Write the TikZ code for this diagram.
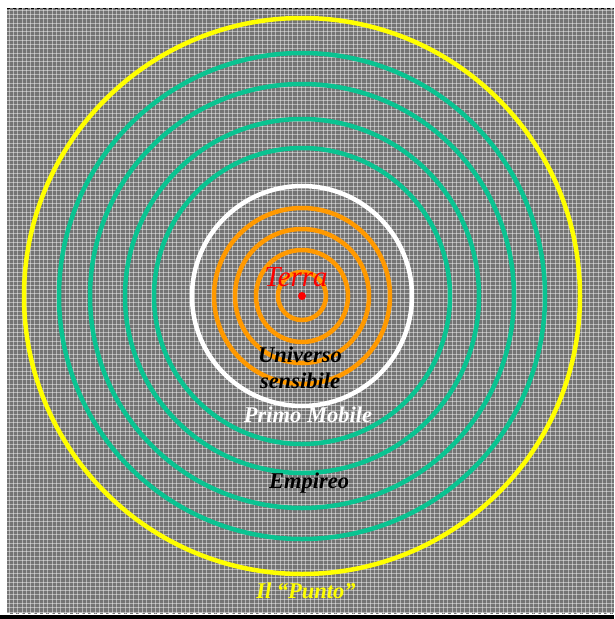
\documentclass[tikz,border=0pt]{standalone}
\usepackage{fontspec}
\setmainfont{Liberation Serif}
\definecolor{bggray}{RGB}{116,116,116}
\definecolor{ringteal}{RGB}{10,195,145}
\definecolor{ringorange}{RGB}{255,153,0}
\definecolor{ringyellow}{RGB}{255,255,0}
\begin{document}
\begin{tikzpicture}[x=1pt,y=-1pt,
  ring/.style={line width=4.5pt},
  gridline/.style={white, opacity=0.45, line width=0.7pt},
  lbl/.style={font=\fontsize{22.5}{26}\selectfont\bfseries\itshape, inner sep=0pt, align=center}]
\useasboundingbox (0,0) rectangle (614,619);
\fill[white] (0,0) rectangle (614,619);
% background
\fill[bggray] (7,8) rectangle (614,614);
\foreach \i in {0,...,141}{
  \draw[gridline] ({9+4.3*\i},8) -- ({9+4.3*\i},614);
  \draw[gridline] (7,{10+4.3*\i}) -- (614,{10+4.3*\i});
}
\draw[black, line width=1.2pt, dash pattern=on 3pt off 3pt] (7,8.6) -- (614,8.6);
\draw[white, line width=1pt, dash pattern=on 3pt off 3pt] (7,613) -- (614,613);
\fill[black] (0,614.5) rectangle (614,619);
% rings
\coordinate (c) at (302,296);
\draw[ring, ringyellow] (c) circle[radius=278pt];
\foreach \r in {243,212,177,148}{\draw[ring, ringteal] (c) circle[radius=\r pt];}
\draw[ring, white] (c) circle[radius=110pt];
\foreach \r in {88,67,46,24}{\draw[ring, ringorange] (c) circle[radius=\r pt];}
\fill[red] (c) circle[radius=4pt];
% labels
\node[font=\fontsize{29}{30}\selectfont\itshape, text=red, inner sep=0pt] (terra) at (296,277) {Terra};
\node[lbl, text=black] (univ) at (300,368) {Universo\\[0pt]sensibile};
\node[lbl, text=white] (primo) at (308,415) {Primo Mobile};
\node[lbl, text=black] (emp) at (309,483) {Empireo};
\node[lbl, text=ringyellow] (punto) at (306,591) {Il “Punto”};
\end{tikzpicture}
\end{document}
